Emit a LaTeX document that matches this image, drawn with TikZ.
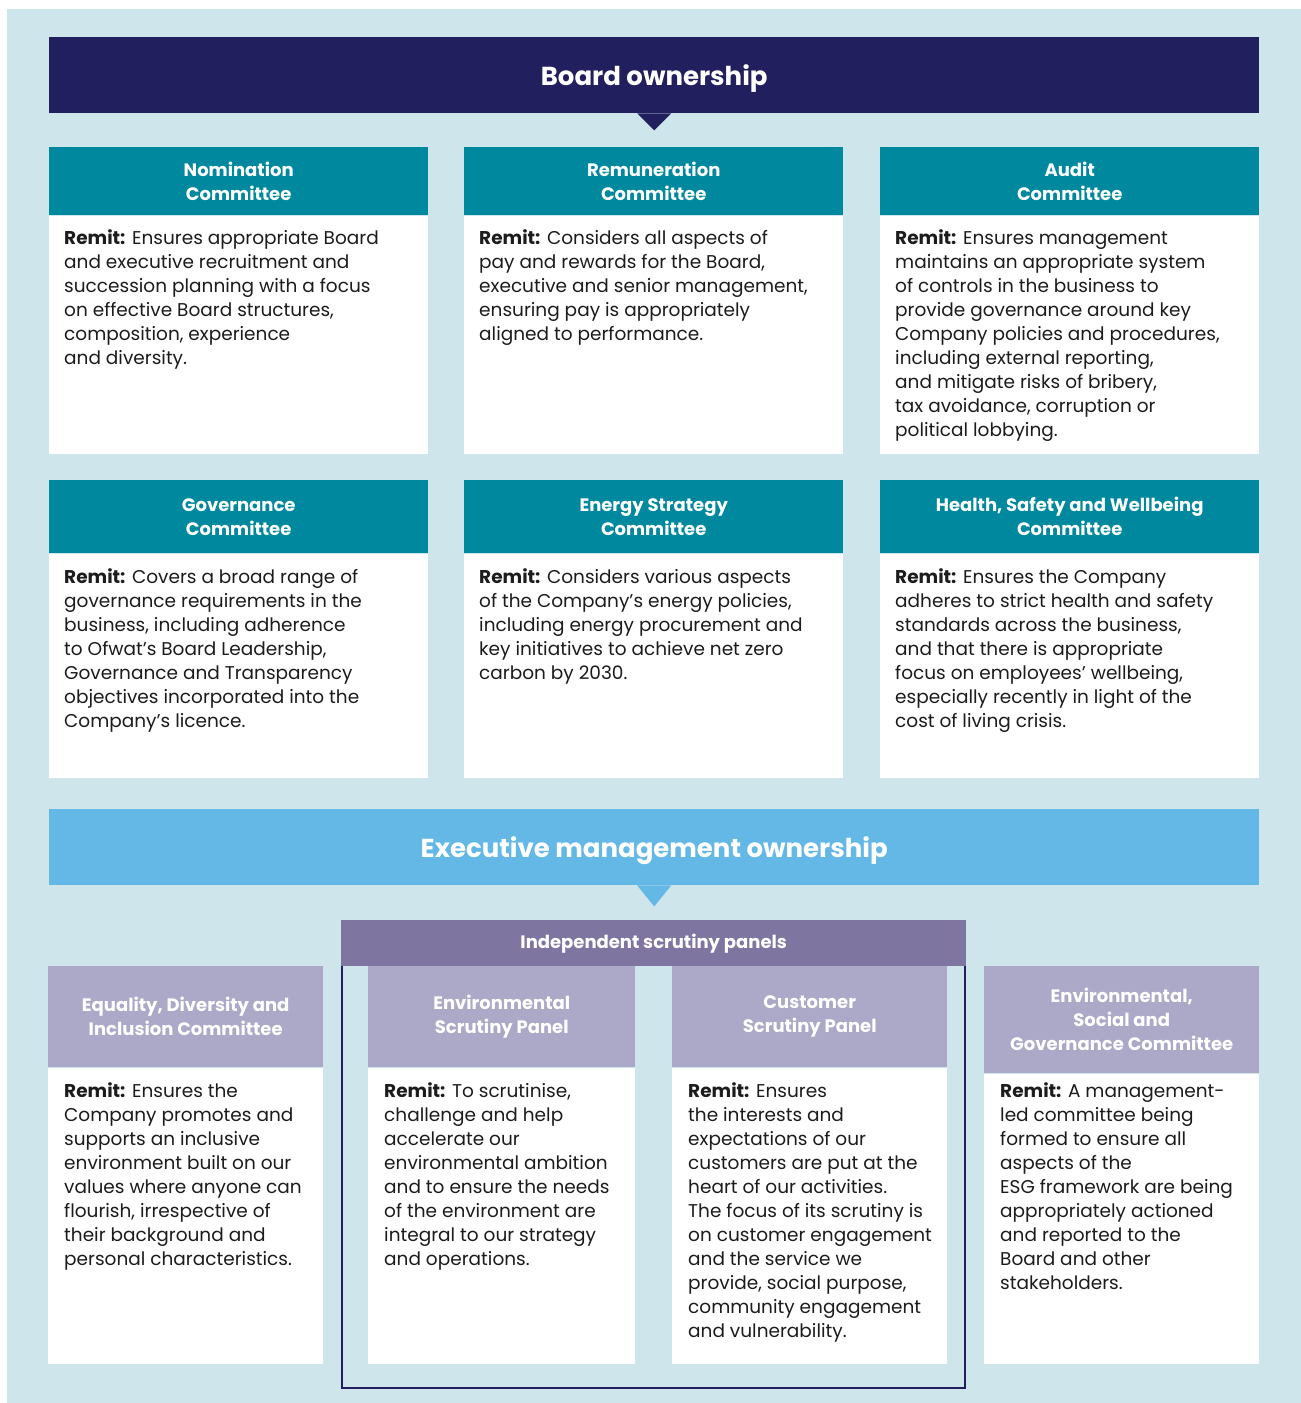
\documentclass[tikz,border=0pt]{standalone}
\usepackage{fontspec}
\setmainfont{Poppins}
\usetikzlibrary{positioning}

\definecolor{paleblue}{HTML}{CFE5EC}
\definecolor{boardnavy}{HTML}{221F5E}
\definecolor{comteal}{HTML}{00889E}
\definecolor{execblue}{HTML}{63B8E6}
\definecolor{panelpurple}{HTML}{7E76A1}
\definecolor{lavender}{HTML}{ABA8C8}
\definecolor{inkgrey}{HTML}{1C1C1C}

\tikzset{
  banner/.style={text=white, font=\bfseries\fontsize{26}{30}\selectfont,
    minimum width=1210pt, minimum height=76pt, inner sep=0pt, text depth=0pt,
    anchor=north west},
  head/.style={text=white, font=\bfseries\fontsize{18}{24}\selectfont,
    align=center, inner sep=0pt},
  comhead/.style={head, fill=comteal, minimum width=379pt},
  exechead/.style={head, fill=lavender},
  bodybox/.style={fill=white, inner sep=0pt},
  remit/.style={text=inkgrey, font=\fontsize{18.5}{24}\selectfont,
    align=left, inner sep=0pt, anchor=north west},
}

\begin{document}
\begin{tikzpicture}[x=1pt,y=-1pt]
\useasboundingbox (0,0) rectangle (1301,1403);
\fill[paleblue] (7,9) rectangle (1301,1403);

% board level
\node[banner, fill=boardnavy] (board) at (49,37) {Board ownership};
\fill[boardnavy] ([xshift=-17pt]board.south) -- ([xshift=17pt]board.south)
  -- ([yshift=-17pt]board.south) -- cycle;

\node[comhead, minimum height=68pt, anchor=north west] (nomHead) at (49,147) {Nomination\\Committee};
\node[comhead, minimum height=68pt, anchor=north west] (remHead) at (464,147) {Remuneration\\Committee};
\node[comhead, minimum height=68pt, anchor=north west] (audHead) at (880,147) {Audit\\Committee};
\foreach \c in {nom,rem,aud}
  \node[bodybox, minimum width=379pt, minimum height=238pt, below=0pt of \c Head] (\c Body) {};

\node[remit, below right=14pt and 15pt of nomBody.north west] (nomText)
  {\textbf{Remit:} Ensures appropriate Board\\and executive recruitment and\\succession planning with a focus\\on effective Board structures,\\composition, experience\\and diversity.};
\node[remit, below right=14pt and 15pt of remBody.north west] (remText)
  {\textbf{Remit:} Considers all aspects of\\pay and rewards for the Board,\\executive and senior management,\\ensuring pay is appropriately\\aligned to performance.};
\node[remit, below right=14pt and 15pt of audBody.north west] (audText)
  {\textbf{Remit:} Ensures management\\maintains an appropriate system\\of controls in the business to\\provide governance around key\\Company policies and procedures,\\including external reporting,\\and mitigate risks of bribery,\\tax avoidance, corruption or\\political lobbying.};

\node[comhead, minimum height=73pt, anchor=north west] (govHead) at (49,480) {Governance\\Committee};
\node[comhead, minimum height=73pt, anchor=north west] (enyHead) at (464,480) {Energy Strategy\\Committee};
\node[comhead, minimum height=73pt, anchor=north west] (hswHead) at (880,480) {Health, Safety and Wellbeing\\Committee};
\foreach \c in {gov,eny,hsw}
  \node[bodybox, minimum width=379pt, minimum height=224pt, below=0pt of \c Head] (\c Body) {};

\node[remit, below right=15pt and 15pt of govBody.north west] (govText)
  {\textbf{Remit:} Covers a broad range of\\governance requirements in the\\business, including adherence\\to Ofwat’s Board Leadership,\\Governance and Transparency\\objectives incorporated into the\\Company’s licence.};
\node[remit, below right=15pt and 15pt of enyBody.north west] (enyText)
  {\textbf{Remit:} Considers various aspects\\of the Company’s energy policies,\\including energy procurement and\\key initiatives to achieve net zero\\carbon by 2030.};
\node[remit, below right=15pt and 15pt of hswBody.north west] (hswText)
  {\textbf{Remit:} Ensures the Company\\adheres to strict health and safety\\standards across the business,\\and that there is appropriate\\focus on employees’ wellbeing,\\especially recently in light of the\\cost of living crisis.};

% executive level
\node[banner, fill=execblue] (exec) at (49,809) {Executive management ownership};
\fill[execblue] ([xshift=-17pt]exec.south) -- ([xshift=17pt]exec.south)
  -- ([yshift=-21pt]exec.south) -- cycle;

\coordinate (panelBottom) at (654,1388);
\node[head, fill=panelpurple, minimum width=625pt, minimum height=46pt, anchor=north west] (panelHead) at (341,920) {Independent scrutiny panels};
\draw[boardnavy, line width=2pt] ([xshift=1pt]panelHead.south west) |- (panelBottom)
  -| ([xshift=-1pt]panelHead.south east);

\node[exechead, minimum width=275pt, minimum height=101pt, anchor=north west] (ediHead) at (48,966) {Equality, Diversity and\\Inclusion Committee};
\node[exechead, minimum width=267pt, minimum height=101pt, anchor=north west] (espHead) at (368,966) {Environmental\\Scrutiny Panel};
\node[exechead, minimum width=275pt, minimum height=101pt, anchor=north west] (cspHead) at (672,966) {Customer\\Scrutiny Panel};
\node[exechead, minimum width=275pt, minimum height=107pt, anchor=north west] (esgHead) at (984,966) {Environmental,\\Social and\\Governance Committee};
\node[bodybox, minimum width=275pt, minimum height=296pt, below=0pt of ediHead] (ediBody) {};
\node[bodybox, minimum width=267pt, minimum height=296pt, below=0pt of espHead] (espBody) {};
\node[bodybox, minimum width=275pt, minimum height=296pt, below=0pt of cspHead] (cspBody) {};
\node[bodybox, minimum width=275pt, minimum height=290pt, below=0pt of esgHead] (esgBody) {};

\node[remit, below right=15pt and 16pt of ediBody.north west] (ediText)
  {\textbf{Remit:} Ensures the\\Company promotes and\\supports an inclusive\\environment built on our\\values where anyone can\\flourish, irrespective of\\their background and\\personal characteristics.};
\node[remit, below right=15pt and 16pt of espBody.north west] (espText)
  {\textbf{Remit:} To scrutinise,\\challenge and help\\accelerate our\\environmental ambition\\and to ensure the needs\\of the environment are\\integral to our strategy\\and operations.};
\node[remit, below right=15pt and 16pt of cspBody.north west] (cspText)
  {\textbf{Remit:} Ensures\\the interests and\\expectations of our\\customers are put at the\\heart of our activities.\\The focus of its scrutiny is\\on customer engagement\\and the service we\\provide, social purpose,\\community engagement\\and vulnerability.};
\node[remit, below right=9pt and 16pt of esgBody.north west] (esgText)
  {\textbf{Remit:} A management-\\led committee being\\formed to ensure all\\aspects of the\\ESG framework are being\\appropriately actioned\\and reported to the\\Board and other\\stakeholders.};
\end{tikzpicture}
\end{document}
